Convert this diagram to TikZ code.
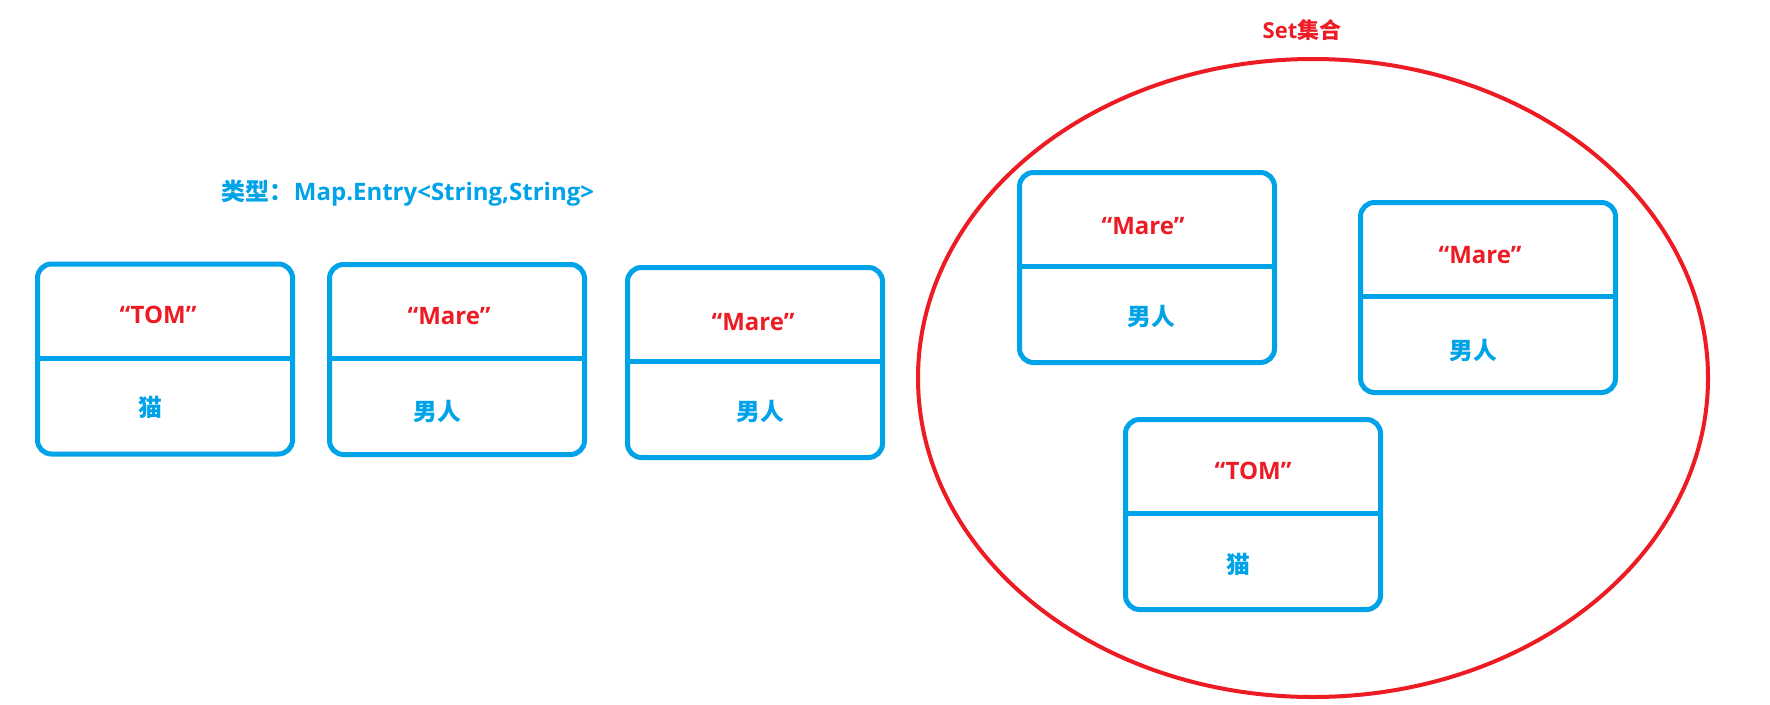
\documentclass[tikz,border=0pt]{standalone}
\usepackage{fontspec}
\setmainfont{Open Sans}
\newfontfamily\cjk{Noto Sans CJK SC}
\usetikzlibrary{shapes.geometric}
\definecolor{pblue}{RGB}{0,162,232}
\definecolor{pred}{RGB}{237,28,36}
\tikzset{
  entrybox/.style={draw=pblue, line width=3.75pt, rounded corners=10.5pt, rectangle,
    minimum width=191.25pt, minimum height=142.5pt, inner sep=0pt},
  divider/.style={draw=pblue, line width=3.75pt},
  keytext/.style={text=pred, font=\bfseries\fontsize{18}{20}\selectfont, inner sep=0pt},
  valtext/.style={text=pblue, font=\cjk\bfseries\fontsize{17.8}{19}\selectfont, inner sep=0pt},
  settext/.style={text=pred, font=\bfseries\fontsize{16.5}{18}\selectfont, inner sep=0pt},
  typetext/.style={text=pblue, font=\bfseries\fontsize{18}{20}\selectfont, inner sep=0pt},
  setring/.style={draw=pred, line width=3pt, ellipse, minimum width=592.5pt, minimum height=478.5pt, inner sep=0pt}
}
\begin{document}
\begin{tikzpicture}[x=0.75pt, y=-0.75pt]
\useasboundingbox[fill=white] (0,0) rectangle (1770,704);

% set ellipse
\node[setring] (ring) at (1313,378) {};
\node[settext] (setlbl) at (1302,30) {Set{\cjk\bfseries 集合}};

% type label
\node[typetext] (typelbl) at (408,193) {{\cjk\bfseries 类型：}Map.Entry<String,String>};

% boxes
\node[entrybox] (b1) at (165,359) {};
\node[entrybox] (b2) at (457,359.5) {};
\node[entrybox] (b3) at (755,362.5) {};
\node[entrybox] (b4) at (1147,267.5) {};
\node[entrybox] (b5) at (1488,297.5) {};
\node[entrybox] (b6) at (1253,514.5) {};

\foreach \b in {b1,b2,b3,b4,b5,b6}{
  \draw[divider] ([yshift=0.75pt]\b.west) -- ([yshift=0.75pt]\b.east);
}

% texts
\node[keytext] (k1) at (158,315) {“TOM”};
\node[valtext] (v1) at (150,407) {猫};
\node[keytext] (k2) at (449,316) {“Mare”};
\node[valtext] (v2) at (437,411) {男人};
\node[keytext] (k3) at (753,322) {“Mare”};
\node[valtext] (v3) at (760,411) {男人};
\node[keytext] (k4) at (1143,226) {“Mare”};
\node[valtext] (v4) at (1151,316) {男人};
\node[keytext] (k5) at (1480,255) {“Mare”};
\node[valtext] (v5) at (1473,350) {男人};
\node[keytext] (k6) at (1253,471) {“TOM”};
\node[valtext] (v6) at (1238,564) {猫};
\end{tikzpicture}
\end{document}
